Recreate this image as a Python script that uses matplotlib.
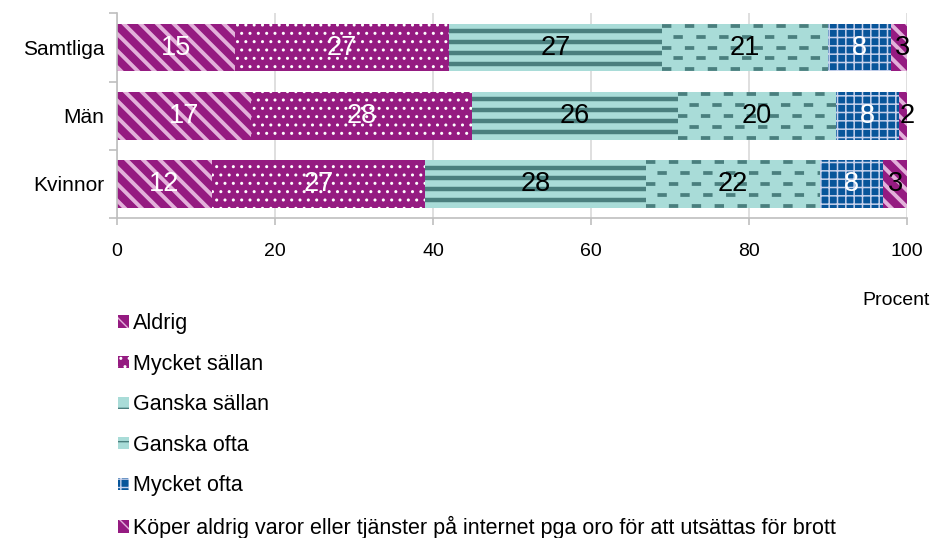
import numpy as np
import matplotlib
matplotlib.use('Agg')
import matplotlib.pyplot as plt
from matplotlib.patches import Patch

plt.rcParams['font.family'] = ['Liberation Sans', 'DejaVu Sans']

# Data
categories = ['Samtliga', 'Män', 'Kvinnor']
series = ['Aldrig', 'Mycket sällan', 'Ganska sällan', 'Ganska ofta', 'Mycket ofta',
          'Köper aldrig varor eller tjänster på internet pga oro för att utsättas för brott']
aldrig = [15, 17, 12]
mycket_sallan = [27, 28, 27]
ganska_sallan = [27, 26, 28]
ganska_ofta = [21, 20, 22]
mycket_ofta = [8, 8, 8]
koper_aldrig = [3, 2, 3]
xticks = [0, 20, 40, 60, 80, 100]

values = [aldrig, mycket_sallan, ganska_sallan, ganska_ofta, mycket_ofta, koper_aldrig]

purple = '#951B81'
pink = '#E3B1DA'
teal_l = '#A9DCD8'
teal_d = '#4A7F7E'
blue = '#08559A'
grid_l = '#C8D2EC'

# (face, hatch colour, hatch, hatch lw, label colour)
styles = [
    (purple, pink, '\\\\', 2.8, 'white'),
    (purple, 'white', '..', 1.0, 'white'),
    (teal_l, teal_d, None, 0, 'black'),
    (teal_l, teal_d, None, 0, 'black'),
    (blue, grid_l, '++', 1.1, 'white'),
    (purple, pink, '\\\\', 2.8, 'black'),
]

fig = plt.figure(figsize=(9.33, 5.38), dpi=100)
ax = fig.add_axes([0.1254, 0.595, 0.8467, 0.38])

y = np.arange(len(categories))
h = 0.70
left = np.zeros(len(categories))
containers = []
for vals, (face, hc, hatch, hlw, tc) in zip(values, styles):
    with plt.rc_context({'hatch.linewidth': hlw if hlw else 1.0}):
        bars = ax.barh(y, vals, height=h, left=left, color=face, edgecolor=hc,
                       linewidth=0, hatch=hatch, zorder=2)
    for b in bars:
        if hatch and hasattr(b, 'set_hatch_linewidth'):
            b.set_hatch_linewidth(hlw)
    containers.append(bars)
    for yi, l, v in zip(y, left, vals):
        ax.text(l + v / 2, yi, str(v), ha='center', va='center', fontsize=19.5,
                color=tc, zorder=4, clip_on=False)
    left = left + np.array(vals)


def stripes(bars, fracs, ls, lw, offsets=None):
    for b in bars:
        x0 = b.get_x()
        x1 = x0 + b.get_width()
        y0 = b.get_y()
        bh = b.get_height()
        for i, f in enumerate(fracs):
            style = ls
            if offsets is not None:
                style = (offsets[i % len(offsets)], ls[1])
            ln, = ax.plot([x0, x1], [y0 + f * bh] * 2, color=teal_d, lw=lw,
                          linestyle=style, solid_capstyle='butt',
                          dash_capstyle='butt', zorder=3)
            ln.set_clip_path(b)


stripes(containers[2], [0.16, 0.385, 0.61, 0.84], '-', 3.2)
stripes(containers[3], [0.04, 0.27, 0.5, 0.73, 0.96], (0, (2.5, 3.6)), 2.7,
        offsets=[0, 3.05])

ax.set_xlim(0, 100)
ax.set_ylim(len(categories) - 0.5, -0.5)
ax.set_xticks(xticks)
ax.set_xticklabels([str(t) for t in xticks], fontsize=14)
ax.set_yticks(y)
ax.set_yticklabels(categories, fontsize=15)
ax.set_yticks(np.arange(len(categories) + 1) - 0.5, minor=True)
ax.tick_params(axis='y', which='major', length=0, pad=9)
ax.tick_params(axis='y', which='minor', length=6, color='#BFBFBF', width=1.2)
ax.tick_params(axis='x', length=5, color='#BFBFBF', width=1.2, pad=13)
ax.grid(axis='x', color='#D9D9D9', lw=1.2, zorder=0)
for s in ['top', 'right']:
    ax.spines[s].set_visible(False)
for s in ['left', 'bottom']:
    ax.spines[s].set_color('#BFBFBF')
    ax.spines[s].set_linewidth(1.2)

fig.text(0.997, 0.442, 'Procent', ha='right', va='center', fontsize=14)

handles = []
for (face, hc, hatch, hlw, tc), lab in zip(styles, series):
    handles.append(Patch(facecolor=face, edgecolor=hc, hatch=hatch or '-', linewidth=0, label=lab))
leg = fig.legend(handles=handles, loc='upper left', bbox_to_anchor=(0.1175, 0.434),
                 frameon=False, fontsize=15.5, handlelength=0.5, handleheight=0.5,
                 handletextpad=0.2, labelspacing=0.91, borderaxespad=0)

fig.savefig('out.png', dpi=100)
